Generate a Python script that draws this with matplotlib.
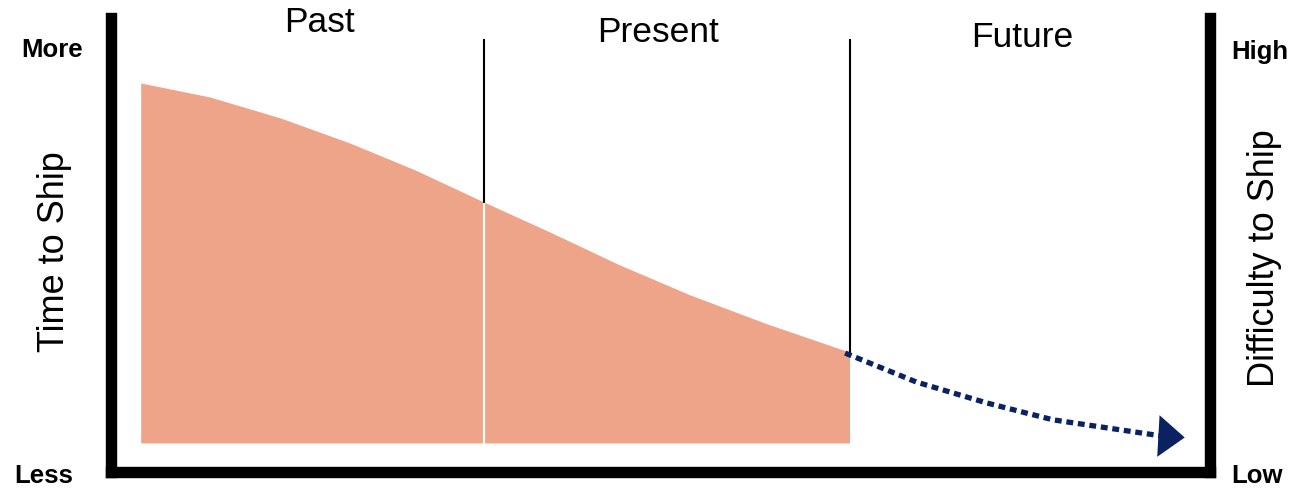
import matplotlib.pyplot as plt

plt.rcParams['font.family'] = ['Liberation Sans', 'DejaVu Sans']

# Shipping effort over the timeline (x: timeline position 0-100, y: time to ship 0-100)
past_present_x = [2.7, 9.0, 15.4, 21.7, 27.7, 33.9, 39.9, 46.3, 52.7, 59.5, 67.2]
past_present_y = [85.7, 82.6, 78.0, 72.5, 66.5, 59.5, 52.9, 45.6, 39.0, 32.8, 26.4]
baseline = 6.4

# Projected trend into the future
future_x = [66.8, 73.3, 79.7, 85.7, 91.8, 95.7]
future_y = [26.2, 19.8, 15.2, 11.5, 9.3, 7.9]

# Era boundaries and headings
boundaries = [33.9, 67.2]
boundary_top = 95.2
eras = ['Past', 'Present', 'Future']
era_x = [19.0, 49.8, 82.9]
era_y = [99.1, 96.7, 95.8]

W, H = 1294, 490
fig = plt.figure(figsize=(W / 100, H / 100), dpi=100)
ax = fig.add_axes([111 / W, (H - 472) / H, (1210 - 111) / W, (472 - 18) / H])
ax.set_xlim(0, 100)
ax.set_ylim(0, 100)

for side in ['left', 'bottom', 'right']:
    ax.spines[side].set_linewidth(8.2)
    ax.spines[side].set_color('black')
ax.spines['top'].set_visible(False)
ax.set_xticks([])
ax.set_yticks([])

ax.fill_between(past_present_x, baseline, past_present_y, color='#EEA489', linewidth=0)

# white split between past and present inside the area
ax.plot([boundaries[0], boundaries[0]], [baseline, past_present_y[5]], color='white', lw=1.6)

# black era dividers above the curve
ax.plot([boundaries[0], boundaries[0]], [past_present_y[5], boundary_top], color='black', lw=1.5)
ax.plot([boundaries[1], boundaries[1]], [past_present_y[-1] - 0.8, boundary_top], color='black', lw=1.5)

# dotted future projection with arrow head
ax.plot(future_x, future_y, color='#0B2262', lw=3.8, linestyle=(0, (1.3, 0.9)),
        dash_capstyle='butt')
ax.annotate('', xy=(future_x[-1] + 2.0, future_y[-1] - 0.3),
            xytext=(future_x[-1] - 0.2, future_y[-1]),
            arrowprops=dict(arrowstyle='-|>,head_length=0.95,head_width=0.75',
                            color='#0B2262', lw=0, shrinkA=0, shrinkB=0,
                            mutation_scale=20))

for name, x, y in zip(eras, era_x, era_y):
    ax.text(x, y, name, fontsize=25.5, ha='center', va='center', clip_on=False)

fig.text(55 / W, 1 - 252 / H, 'Time to Ship', rotation=90, fontsize=26,
         ha='center', va='center')
fig.text(1265 / W, 1 - 258 / H, 'Difficulty to Ship', rotation=90, fontsize=26,
         ha='center', va='center')

fig.text(52 / W, 1 - 50 / H, 'More', fontsize=18.5, fontweight='bold', ha='center', va='center')
fig.text(44 / W, 1 - 476 / H, 'Less', fontsize=18.5, fontweight='bold', ha='center', va='center')
fig.text(1260 / W, 1 - 52 / H, 'High', fontsize=18.5, fontweight='bold', ha='center', va='center')
fig.text(1257 / W, 1 - 476 / H, 'Low', fontsize=18.5, fontweight='bold', ha='center', va='center')

fig.savefig('out.png', dpi=100)
